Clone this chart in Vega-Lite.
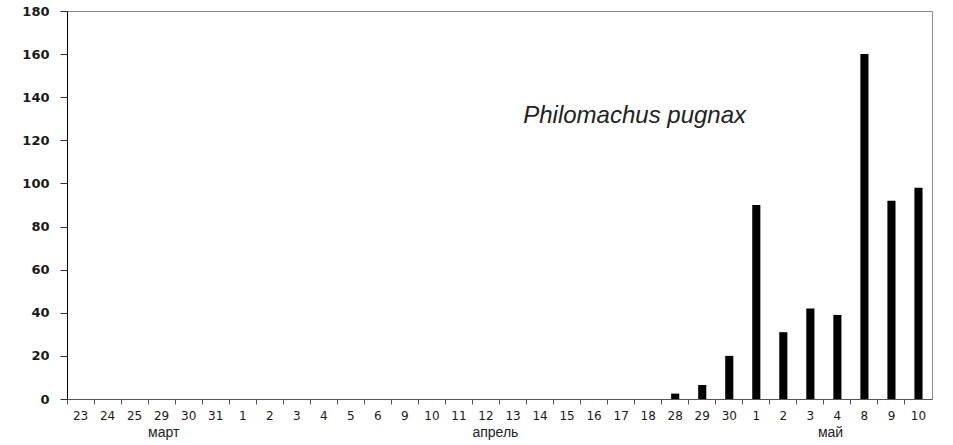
{
  "$schema": "https://vega.github.io/schema/vega-lite/v6.json",
  "autosize": "none",
  "width": 865,
  "height": 388,
  "padding": {"left": 67, "top": 11, "right": 21, "bottom": 46},
  "background": "white",
  "config": {"view": {"stroke": "#8a8a8a", "strokeWidth": 1}},
  "datasets": {
    "counts": [
      {"key": "03-23", "n": 0}, {"key": "03-24", "n": 0}, {"key": "03-25", "n": 0},
      {"key": "03-29", "n": 0}, {"key": "03-30", "n": 0}, {"key": "03-31", "n": 0},
      {"key": "04-01", "n": 0}, {"key": "04-02", "n": 0}, {"key": "04-03", "n": 0},
      {"key": "04-04", "n": 0}, {"key": "04-05", "n": 0}, {"key": "04-06", "n": 0},
      {"key": "04-09", "n": 0}, {"key": "04-10", "n": 0}, {"key": "04-11", "n": 0},
      {"key": "04-12", "n": 0}, {"key": "04-13", "n": 0}, {"key": "04-14", "n": 0},
      {"key": "04-15", "n": 0}, {"key": "04-16", "n": 0}, {"key": "04-17", "n": 0},
      {"key": "04-18", "n": 0}, {"key": "04-28", "n": 2.5}, {"key": "04-29", "n": 6.5},
      {"key": "04-30", "n": 20}, {"key": "05-01", "n": 90}, {"key": "05-02", "n": 31},
      {"key": "05-03", "n": 42}, {"key": "05-04", "n": 39}, {"key": "05-08", "n": 160},
      {"key": "05-09", "n": 92}, {"key": "05-10", "n": 98}
    ],
    "months": [
      {"key": "03-29", "label": "март"},
      {"key": "04-12", "label": "апрель"}
    ],
    "may": [
      {"key": "05-04", "label": "май"}
    ],
    "title": [
      {"key": "04-18", "v": 131.5, "label": "Philomachus pugnax"}
    ]
  },
  "layer": [
    {
      "data": {"name": "counts"},
      "mark": {"type": "bar", "color": "#000000", "width": {"band": 0.3}},
      "encoding": {
        "x": {
          "field": "key", "type": "ordinal", "sort": null,
          "scale": {"paddingInner": 0, "paddingOuter": 0},
          "axis": {
            "title": null,
            "bandPosition": 0,
            "labelExpr": "'' + toNumber(slice(datum.value, 3))",
            "labelAngle": 0,
            "labelFont": "DejaVu Sans",
            "labelFontSize": 12,
            "labelColor": "#1a1a1a",
            "labelPadding": 6,
            "tickSize": 5,
            "tickColor": "#555555",
            "domainColor": "#555555",
            "grid": false
          }
        },
        "y": {
          "field": "n", "type": "quantitative",
          "scale": {"domain": [0, 180], "nice": false},
          "axis": {
            "title": null,
            "values": [0, 20, 40, 60, 80, 100, 120, 140, 160, 180],
            "labelFont": "DejaVu Sans",
            "labelFontSize": 13,
            "labelFontWeight": "bold",
            "labelColor": "#1a1a1a",
            "labelPadding": 11,
            "tickSize": 7,
            "tickColor": "#333333",
            "domainColor": "#000000",
            "grid": false
          }
        }
      }
    },
    {
      "data": {"name": "months"},
      "mark": {"type": "text", "align": "left", "baseline": "middle", "dy": 34, "font": "Liberation Sans", "fontSize": 14, "color": "#222222"},
      "encoding": {
        "x": {"field": "key", "type": "ordinal", "sort": null, "bandPosition": 0},
        "y": {"datum": 0, "type": "quantitative"},
        "text": {"field": "label"}
      }
    },
    {
      "data": {"name": "may"},
      "mark": {"type": "text", "align": "left", "baseline": "middle", "dy": 34, "dx": -6, "font": "Liberation Sans", "fontSize": 14, "color": "#222222"},
      "encoding": {
        "x": {"field": "key", "type": "ordinal", "sort": null, "bandPosition": 0},
        "y": {"datum": 0, "type": "quantitative"},
        "text": {"field": "label"}
      }
    },
    {
      "data": {"name": "title"},
      "mark": {"type": "text", "align": "center", "baseline": "middle", "font": "Liberation Sans", "fontStyle": "italic", "fontSize": 24, "color": "#222222"},
      "encoding": {
        "x": {"field": "key", "type": "ordinal", "sort": null, "bandPosition": 0},
        "y": {"field": "v", "type": "quantitative"},
        "text": {"field": "label"}
      }
    }
  ]
}
